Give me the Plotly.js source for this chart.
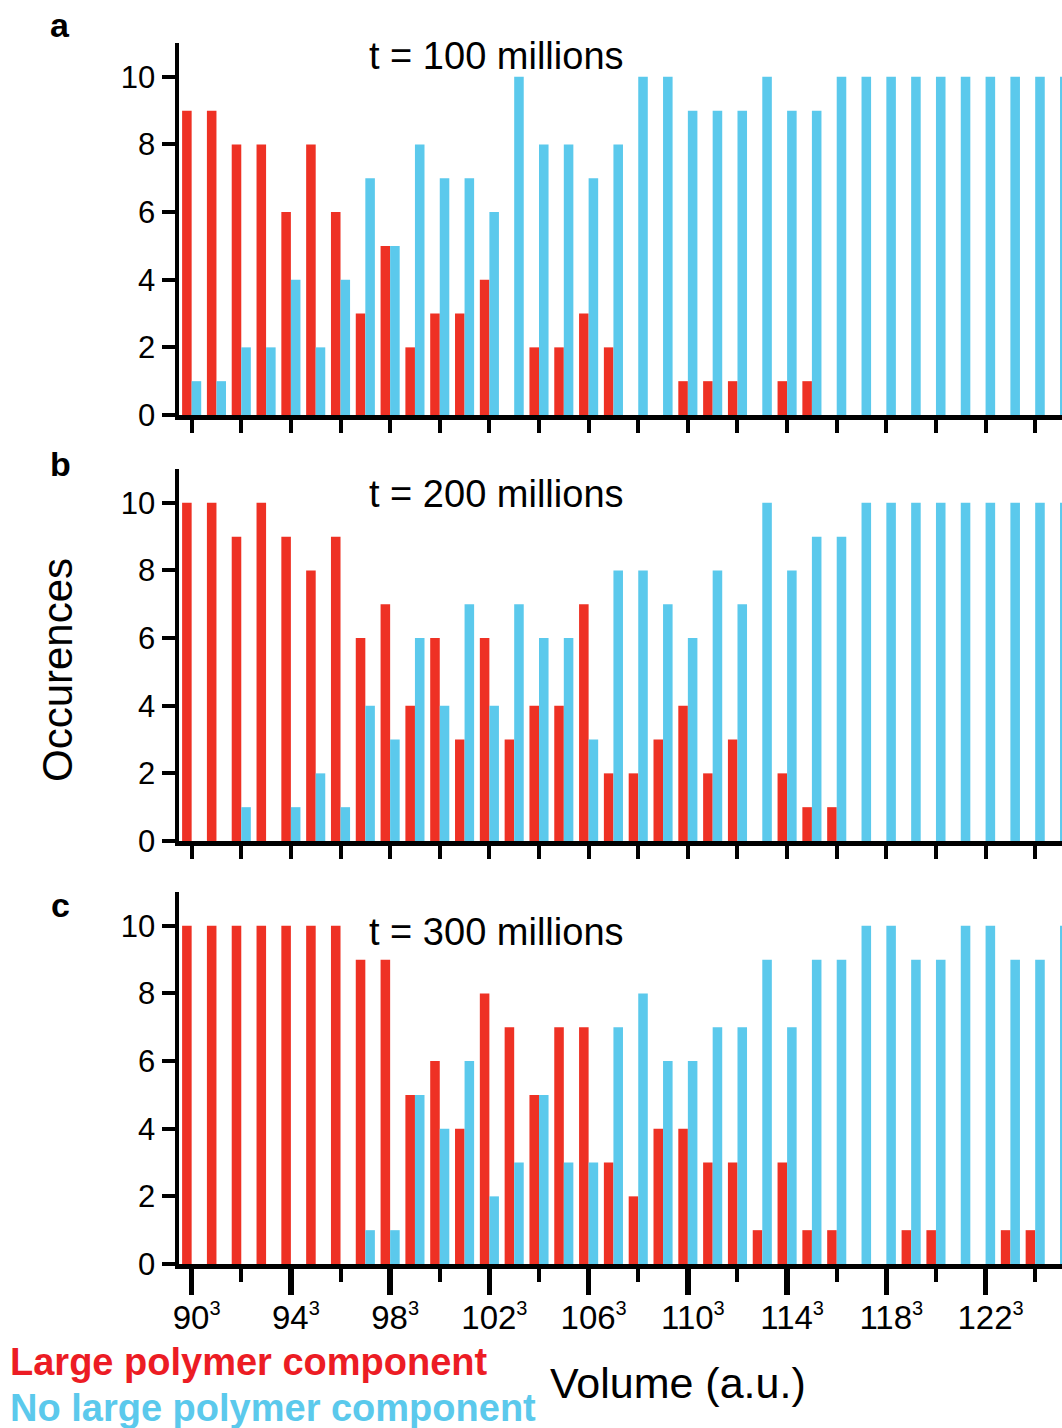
<!DOCTYPE html>
<html>
<head>
<meta charset="utf-8">
<script src="https://cdn.plot.ly/plotly-3.0.1.min.js"></script>
<style>html,body{margin:0;padding:0;background:#fff;}#chart{width:1062px;height:1428px;}</style>
</head>
<body>
<div id="chart"></div>
<script>
// Volume side length (volume = side^3)
const volumes = [90,91,92,93,94,95,96,97,98,99,100,101,102,103,104,105,106,107,108,109,110,111,112,113,114,115,116,117,118,119,120,121,122,123,124,125];

// Panel a: t = 100 millions
const largeA = [9,9,8,8,6,8,6,3,5,2, 3,3,4,0,2,2,3,2,0,0, 1,1,1,0,1,1,0,0,0,0, 0,0,0,0,0,0];
const noLargeA = [1,1,2,2,4,2,4,7,5,8, 7,7,6,10,8,8,7,8,10,10, 9,9,9,10,9,9,10,10,10,10, 10,10,10,10,10,10];
// Panel b: t = 200 millions
const largeB = [10,10,9,10,9,8,9,6,7,4, 6,3,6,3,4,4,7,2,2,3, 4,2,3,0,2,1,1,0,0,0, 0,0,0,0,0,0];
const noLargeB = [0,0,1,0,1,2,1,4,3,6, 4,7,4,7,6,6,3,8,8,7, 6,8,7,10,8,9,9,10,10,10, 10,10,10,10,10,10];
// Panel c: t = 300 millions
const largeC = [10,10,10,10,10,10,10,9,9,5, 6,4,8,7,5,7,7,3,2,4, 4,3,3,1,3,1,1,0,0,1, 1,0,0,1,1,0];
const noLargeC = [0,0,0,0,0,0,0,1,1,5, 4,6,2,3,5,3,3,7,8,6, 6,7,7,9,7,9,9,10,10,9, 9,10,10,9,9,10];

const panelTitles = ["t = 100 millions", "t = 200 millions", "t = 300 millions"];
const panelLetters = ["a", "b", "c"];
const xTickVals = [90,94,98,102,106,110,114,118,122];
const xTickBase = ["90","94","98","102","106","110","114","118","122"];
const yTickVals = [0,2,4,6,8,10];
const seriesNames = ["Large polymer component", "No large polymer component"];

const RED = "#EE3124";
const BLUE = "#5BC9EC";
const FONT = "Liberation Sans, Arial, Helvetica, sans-serif";

const xTickText = xTickBase.map(s => s + "<sup><span style=\"font-size:20px\">3</span></sup>");

const panels = [[largeA, noLargeA], [largeB, noLargeB], [largeC, noLargeC]];
const axSuffix = ["", "2", "3"];
const traces = [];
panels.forEach((p, i) => {
  traces.push({type: "bar", x: volumes, y: p[0], name: seriesNames[0], marker: {color: RED, line: {width: 0}},
    xaxis: "x" + axSuffix[i], yaxis: "y" + axSuffix[i], showlegend: false});
  traces.push({type: "bar", x: volumes, y: p[1], name: seriesNames[1], marker: {color: BLUE, line: {width: 0}},
    xaxis: "x" + axSuffix[i], yaxis: "y" + axSuffix[i], showlegend: false});
});

const H = 1428, W = 1062;
const plotLeft = 179;
const yDomains = [[43, 415], [469, 841], [892, 1264]].map(d => [(H - d[1]) / H, (H - d[0]) / H]);
const xDomain = [plotLeft / W, 1];
const xRange = [89.49, 125.08];

const layout = {
  width: W, height: H,
  margin: {l: 0, r: 0, t: 0, b: 0},
  paper_bgcolor: "#fff", plot_bgcolor: "#fff",
  barmode: "group", bargap: 0.23, bargroupgap: 0,
  font: {family: FONT, color: "#000", size: 31},
  showlegend: false,
  annotations: []
};

for (let i = 0; i < 3; i++) {
  const isBottom = i === 2;
  const xa = {
    domain: xDomain, range: xRange, anchor: "y" + axSuffix[i],
    showline: true, linewidth: 4.5, linecolor: "#000",
    showgrid: false, zeroline: false, automargin: false,
    ticks: "outside", tickcolor: "#000",
    tickfont: {family: FONT, size: 33, color: "#000"}
  };
  if (isBottom) {
    Object.assign(xa, {
      tickmode: "array", tickvals: xTickVals, ticktext: xTickText,
      ticklen: 26, tickwidth: 5.5, showticklabels: true, ticklabelshift: 5, ticklabelstandoff: -5,
      minor: {tickmode: "linear", tick0: 90, dtick: 2, ticks: "outside", ticklen: 13, tickwidth: 4, tickcolor: "#000"}
    });
  } else {
    Object.assign(xa, {
      tickmode: "linear", tick0: 90, dtick: 2, ticklen: 13, tickwidth: 4, showticklabels: false
    });
  }
  layout["xaxis" + axSuffix[i]] = xa;
  layout["yaxis" + axSuffix[i]] = {
    domain: yDomains[i], range: [0, 11], anchor: "x" + axSuffix[i],
    showline: true, linewidth: 4.5, linecolor: "#000",
    showgrid: false, zeroline: false, automargin: false,
    ticks: "outside", ticklen: 13, tickwidth: 4, tickcolor: "#000",
    tickmode: "array", tickvals: yTickVals,
    tickfont: {family: FONT, size: 31, color: "#000"}
  };
}

const titleY = [56, 494, 932];
const letterY = [25, 464, 905];
for (let i = 0; i < 3; i++) {
  layout.annotations.push({
    xref: "paper", yref: "paper", x: 496 / W, y: (H - titleY[i]) / H,
    xanchor: "center", yanchor: "middle", showarrow: false,
    text: panelTitles[i], font: {family: FONT, size: 38, color: "#000"}
  });
  layout.annotations.push({
    xref: "paper", yref: "paper", x: 60 / W, y: (H - letterY[i]) / H,
    xanchor: "center", yanchor: "middle", showarrow: false,
    text: "<b>" + panelLetters[i] + "</b>", font: {family: FONT, size: 34, color: "#000"}
  });
}
layout.annotations.push({
  xref: "paper", yref: "paper", x: 57 / W, y: (H - 670) / H, textangle: -90,
  xanchor: "center", yanchor: "middle", showarrow: false,
  text: "Occurences", font: {family: FONT, size: 42, color: "#000"}
});
layout.annotations.push({
  xref: "paper", yref: "paper", x: 678 / W, y: (H - 1383) / H,
  xanchor: "center", yanchor: "middle", showarrow: false,
  text: "Volume (a.u.)", font: {family: FONT, size: 43, color: "#000"}
});
layout.annotations.push({
  xref: "paper", yref: "paper", x: 8 / W, y: (H - 1362) / H,
  xanchor: "left", yanchor: "middle", showarrow: false,
  text: "<b>" + seriesNames[0] + "</b>", font: {family: FONT, size: 38, color: "#EC1C24"}
});
layout.annotations.push({
  xref: "paper", yref: "paper", x: 8 / W, y: (H - 1408) / H,
  xanchor: "left", yanchor: "middle", showarrow: false,
  text: "<b>" + seriesNames[1] + "</b>", font: {family: FONT, size: 38, color: BLUE}
});

Plotly.newPlot("chart", traces, layout, {staticPlot: true, displayModeBar: false});
</script>
</body>
</html>
